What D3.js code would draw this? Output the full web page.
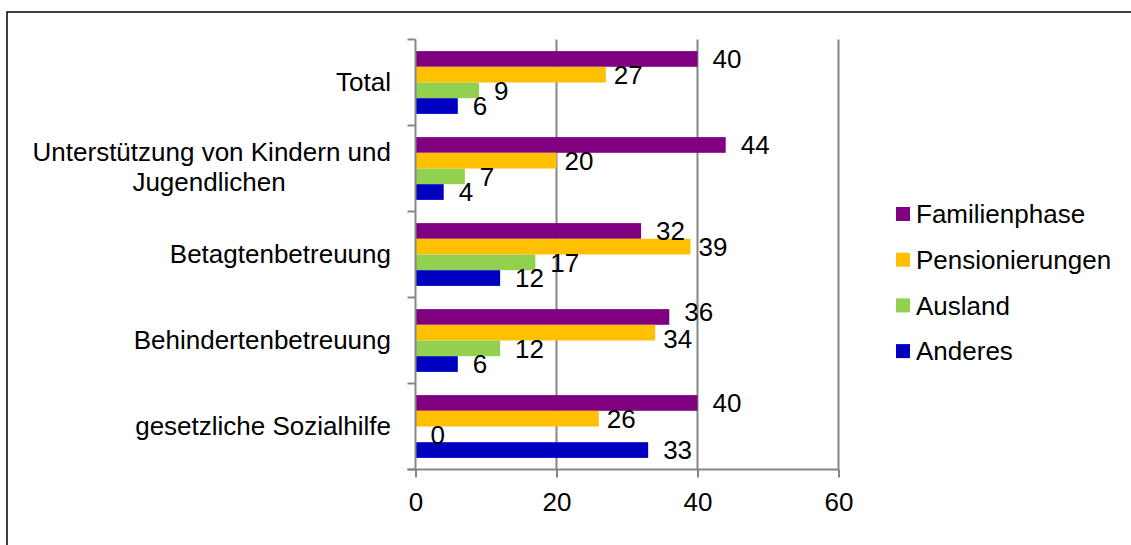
<!DOCTYPE html>
<html>
<head>
<meta charset="utf-8">
<script src="https://cdn.jsdelivr.net/npm/d3@7"></script>
<style>
  body { margin: 0; background: #fff; }
  text { font-family: Arial, "Liberation Sans", sans-serif; fill: #000; }
</style>
</head>
<body>
<div id="chart"></div>
<script>
// chart data
const categories = ["Total", "Unterstützung von Kindern und Jugendlichen", "Betagtenbetreuung", "Behindertenbetreuung", "gesetzliche Sozialhilfe"];
const seriesNames = ["Familienphase", "Pensionierungen", "Ausland", "Anderes"];
const familienphase = [40, 44, 32, 36, 40];
const pensionierungen = [27, 20, 39, 34, 26];
const ausland = [9, 7, 17, 12, 0];
const anderes = [6, 4, 12, 6, 33];
const xTicks = [0, 20, 40, 60];

const colors = ["#800080", "#FFC000", "#92D050", "#0000C0"];
const seriesValues = [familienphase, pensionierungen, ausland, anderes];

const W = 1131, H = 545;
const fs = 26;
const svg = d3.select("#chart").append("svg").attr("width", W).attr("height", H);

// outer frame
svg.append("rect").attr("x", 7).attr("y", 12).attr("width", W).attr("height", H)
    .attr("fill", "none").attr("stroke", "#000").attr("stroke-width", 1.5);

const plotL = 415.5, plotR = 838.5, plotT = 39.5, plotB = 469.5;
const x = d3.scaleLinear().domain([0, 60]).range([plotL, plotR]);
const y = d3.scaleBand().domain(categories).range([plotT, plotB]);
const inner = d3.scaleBand().domain(seriesNames).range([0, y.bandwidth()]).paddingOuter(0.74);

const axisColor = "#868686";

// gridlines
svg.append("g").selectAll("line").data(xTicks.slice(1)).join("line")
    .attr("x1", d => x(d)).attr("x2", d => x(d))
    .attr("y1", plotT).attr("y2", plotB)
    .attr("stroke", axisColor).attr("stroke-width", 2);

// bars
const rows = [];
categories.forEach((c, i) => {
  seriesNames.forEach((s, j) => rows.push({ cat: c, series: s, j: j, value: seriesValues[j][i] }));
});

svg.append("g").selectAll("rect").data(rows).join("rect")
    .attr("x", x(0))
    .attr("y", d => y(d.cat) + inner(d.series))
    .attr("width", d => x(d.value) - x(0))
    .attr("height", inner.bandwidth())
    .attr("fill", d => colors[d.j]);

// data labels
const labelGap = [15, 8, 15, 15];
rows.forEach(d => { d.ly = y(d.cat) + inner(d.series) + inner.bandwidth() / 2; });
const labels = svg.append("g").selectAll("text").data(rows).join("text")
    .attr("x", d => x(d.value) + labelGap[d.j])
    .attr("y", d => d.ly)
    .attr("dy", "0.36em")
    .attr("font-size", fs)
    .text(d => d.value);

// push apart labels that collide within a category (like Excel does)
labels.each(function(d) { const b = this.getBBox(); d.x0 = b.x; d.x1 = b.x + b.width; });
const minGap = fs * 1.05;
categories.forEach(c => {
  const grp = rows.filter(r => r.cat === c);
  for (let k = 0; k < 6; k++) {
    for (let a = 0; a < grp.length - 1; a++) {
      const p = grp[a], q = grp[a + 1];
      const hOverlap = p.x0 < q.x1 && q.x0 < p.x1;
      const dist = q.ly - p.ly;
      if (hOverlap && dist < minGap) {
        const push = (minGap - dist) / 2;
        p.ly -= push; q.ly += push;
      }
    }
  }
});
labels.attr("y", d => d.ly);

// x axis
const xAxis = svg.append("g").attr("transform", `translate(0,${plotB})`)
    .call(d3.axisBottom(x).tickValues(xTicks).tickSize(8).tickPadding(15).tickSizeOuter(0));
xAxis.select(".domain").attr("stroke", axisColor).attr("stroke-width", 2)
    .attr("d", `M${plotL - 8},0H${plotR}`);
xAxis.selectAll(".tick line").attr("stroke", axisColor).attr("stroke-width", 2);
xAxis.selectAll(".tick text").attr("font-size", fs).attr("font-family", null);

// y axis
const yAxis = svg.append("g").attr("transform", `translate(${plotL},0)`)
    .call(d3.axisLeft(y).tickSize(0).tickFormat(""));
yAxis.select(".domain").attr("stroke", axisColor).attr("stroke-width", 2)
    .attr("d", `M0,${plotT}V${plotB}`);
const bounds = categories.map(c => y(c)).concat([plotB]);
yAxis.append("g").selectAll("line").data(bounds).join("line")
    .attr("x1", -8).attr("x2", 0).attr("y1", d => d).attr("y2", d => d)
    .attr("stroke", axisColor).attr("stroke-width", 2);

// category labels (wrap long ones)
const catLabels = svg.append("g").selectAll("text").data(categories).join("text")
    .attr("text-anchor", "end")
    .attr("font-size", fs)
    .attr("y", d => y(d) + y.bandwidth() / 2 - 1);
catLabels.each(function(d) {
  const t = d3.select(this);
  const lines = d.length > 30 ? ["Unterstützung von Kindern und", "Jugendlichen"] : [d];
  if (lines.length === 1) {
    t.append("tspan").attr("x", 391).attr("dy", "0.36em").text(lines[0]);
  } else {
    t.append("tspan").attr("x", 391).attr("dy", "-0.26em").text(lines[0]);
    t.append("tspan").attr("x", 391 - 182).attr("text-anchor", "middle").attr("dy", "1.18em").text(lines[1]);
  }
});

// legend
const legend = svg.append("g").attr("transform", "translate(896,214)");
const item = legend.selectAll("g").data(seriesNames).join("g")
    .attr("transform", (d, i) => `translate(0,${i * 45.7})`);
item.append("rect").attr("x", 0).attr("y", -7).attr("width", 14).attr("height", 14)
    .attr("fill", (d, i) => colors[i]);
item.append("text").attr("x", 20).attr("dy", "0.36em").attr("font-size", fs).text(d => d);
</script>
</body>
</html>
